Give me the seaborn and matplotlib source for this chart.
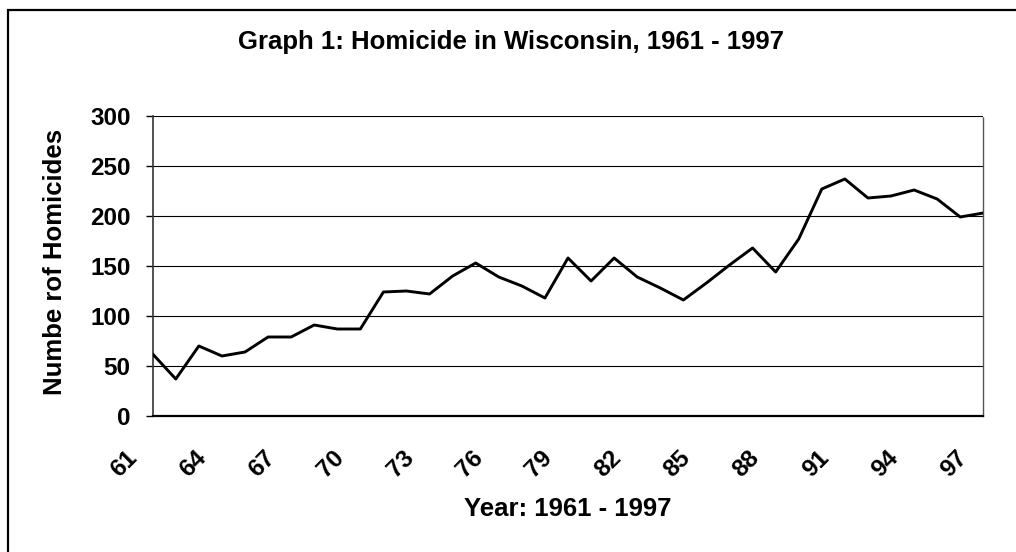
import matplotlib
matplotlib.use("Agg")
import matplotlib.pyplot as plt
from matplotlib.patches import Rectangle
from matplotlib.transforms import ScaledTranslation
import seaborn as sns
import pandas as pd

# Homicides per year
years = [61, 62, 63, 64, 65, 66, 67, 68, 69, 70, 71, 72, 73, 74, 75, 76, 77, 78, 79,
         80, 81, 82, 83, 84, 85, 86, 87, 88, 89, 90, 91, 92, 93, 94, 95, 96, 97]
homicides = [62, 37, 70, 60, 64, 79, 79, 91, 87, 87, 124, 125, 122, 140, 153, 139, 130,
             118, 158, 135, 158, 139, 128, 116, 133, 151, 168, 144, 177, 227, 237, 218,
             220, 226, 217, 199, 203]
tick_years = [61, 64, 67, 70, 73, 76, 79, 82, 85, 88, 91, 94, 97]
y_ticks = [0, 50, 100, 150, 200, 250, 300]

df = pd.DataFrame({"year": years, "homicides": homicides})

sns.set_theme(style="white")
plt.rcParams['font.family'] = ['Liberation Sans', 'DejaVu Sans']
plt.rcParams['font.weight'] = 'bold'

W, H = 1016, 552
fig = plt.figure(figsize=(W / 100, H / 100), dpi=100)
fig.patch.set_facecolor("white")

# plot area in pixels: x 152.7-983.3, y 116-416
ax = fig.add_axes([152.7 / W, 1 - 416 / H, (983.3 - 152.7) / W, 300 / H])

# outer chart frame (runs off the right and bottom of the scan)
fig.add_artist(Rectangle((7.5 / W, -0.1), 1.2, 1 - 10 / H + 0.1, transform=fig.transFigure,
                         fill=False, edgecolor="black", linewidth=1.6))

for y in y_ticks[1:]:
    ax.axhline(y, color="black", linewidth=0.8, zorder=1)

sns.lineplot(data=df, x="year", y="homicides", color="black", linewidth=2.1, ax=ax, zorder=3)

ax.set_xlim(61, 97)
ax.set_ylim(0, 300)
ax.set_yticks(y_ticks)
ax.set_xticks(tick_years)
ax.set_xticklabels([str(t) for t in tick_years], rotation=45, ha="center", va="top")

ax.tick_params(axis="y", direction="out", length=5, width=1, color="black", pad=11,
               labelsize=17.5, left=True)
ax.tick_params(axis="x", length=0, pad=22, labelsize=17.5)
for lab in ax.get_yticklabels() + ax.get_xticklabels():
    lab.set_fontweight("bold")
    lab.set_color("black")
for lab in ax.get_xticklabels():
    lab.set_transform(lab.get_transform() + ScaledTranslation(-0.29, 0, fig.dpi_scale_trans))

ax.spines["left"].set_color("#333333")
ax.spines["left"].set_linestyle((0, (1, 1)))
ax.spines["left"].set_linewidth(1.2)
ax.spines["bottom"].set_color("black")
ax.spines["bottom"].set_linewidth(1.6)
ax.spines["top"].set_visible(False)
ax.spines["right"].set_color("#555555")
ax.spines["right"].set_linestyle((0, (1, 1)))
ax.spines["right"].set_linewidth(1.0)

ax.set_ylabel("Numbe rof Homicides", fontsize=18.5, fontweight="bold", color="black", va="center")
ax.yaxis.set_label_coords((55 - 152.7) / 830.6, 0.513)
ax.set_xlabel("Year: 1961 - 1997", fontsize=18.5, fontweight="bold", color="black", va="center")
ax.xaxis.set_label_coords(0.5, (416 - 509) / 300)

fig.text(511 / W, 1 - 42 / H, "Graph 1: Homicide in Wisconsin, 1961 - 1997",
         ha="center", va="center", fontsize=18.5, fontweight="bold", color="black")

fig.savefig("out.png", dpi=100)
